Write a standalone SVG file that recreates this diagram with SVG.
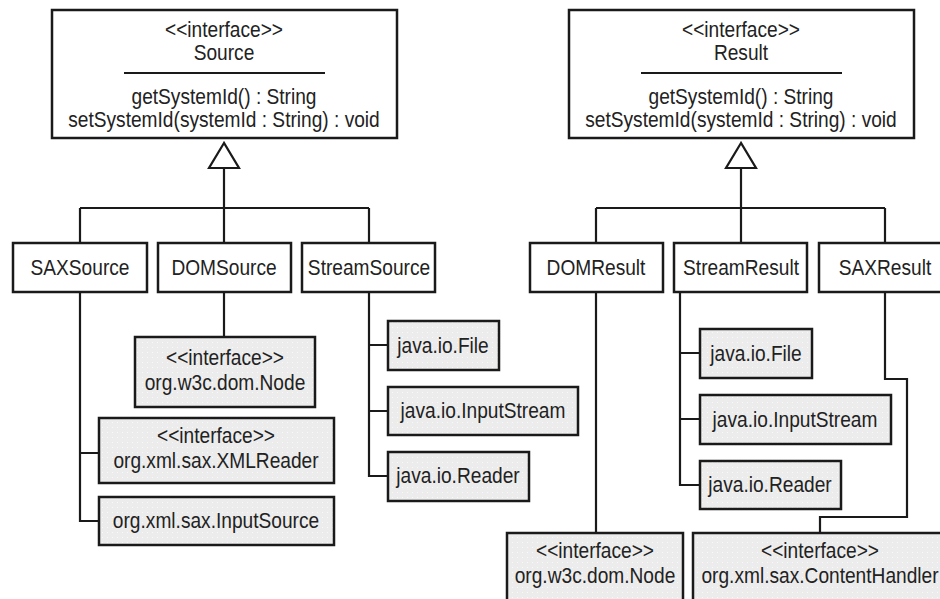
<svg xmlns="http://www.w3.org/2000/svg" width="940" height="599" viewBox="0 0 940 599">
<style>
.box{fill:#fff;stroke:#1a1a1a;stroke-width:2.5}
.leaf{fill:url(#dots);stroke:#1a1a1a;stroke-width:2.5}
.ln{fill:none;stroke:#1a1a1a;stroke-width:2.2}
.tri{fill:#fff;stroke:#1a1a1a;stroke-width:2.2;stroke-linejoin:miter}
text{font-family:"Liberation Sans",Arial,sans-serif;font-size:22px;fill:#222;text-anchor:middle}
</style>
<defs>
<pattern id="dots" width="5" height="5" patternUnits="userSpaceOnUse">
<rect width="5" height="5" fill="#ececec"/>
<rect x="2" y="2" width="1" height="1" fill="#f9f9f9"/>
</pattern>
</defs>
<g id="connectors">
<path class="ln" d="M224,168 V208 M80,208 H369 M80,208 V243 M224,208 V243 M369,208 V243"/>
<polygon class="tri" points="224,143 209,168 239,168"/>
<path class="ln" d="M741,168 V208 M596,208 H885 M596,208 V243 M741,208 V243 M885,208 V243"/>
<polygon class="tri" points="741,143 726,168 756,168"/>
<path class="ln" d="M80,292 V521 H99 M80,453 H99"/>
<path class="ln" d="M224,292 V337"/>
<path class="ln" d="M369,292 V476 H388 M369,345 H388 M369,411 H388"/>
<path class="ln" d="M596,292 V533"/>
<path class="ln" d="M680,292 V485 H700 M680,353 H700 M680,419 H700"/>
<path class="ln" d="M885,292 V379 H907 V517 H820 V533"/>
</g>
<g id="Source">
<rect class="box" x="52" y="10" width="345" height="128"/>
<text transform="translate(224,37) scale(0.87,1)">&lt;&lt;interface&gt;&gt;</text>
<text transform="translate(224,60) scale(0.87,1)">Source</text>
<line class="ln" x1="124" y1="73" x2="325" y2="73" stroke-width="1.5"/>
<text transform="translate(224,104) scale(0.87,1)">getSystemId() : String</text>
<text transform="translate(224,127) scale(0.87,1)">setSystemId(systemId : String) : void</text>
</g>
<g id="Result">
<rect class="box" x="569" y="10" width="345" height="128"/>
<text transform="translate(741,37) scale(0.87,1)">&lt;&lt;interface&gt;&gt;</text>
<text transform="translate(741,60) scale(0.87,1)">Result</text>
<line class="ln" x1="641" y1="73" x2="842" y2="73" stroke-width="1.5"/>
<text transform="translate(741,104) scale(0.87,1)">getSystemId() : String</text>
<text transform="translate(741,127) scale(0.87,1)">setSystemId(systemId : String) : void</text>
</g>
<g id="SAXSource">
<rect class="box" x="13" y="243" width="134" height="49"/>
<text transform="translate(80,275) scale(0.87,1)">SAXSource</text>
</g>
<g id="DOMSource">
<rect class="box" x="158" y="243" width="133" height="49"/>
<text transform="translate(224,275) scale(0.87,1)">DOMSource</text>
</g>
<g id="StreamSource">
<rect class="box" x="302" y="243" width="133" height="49"/>
<text transform="translate(369,275) scale(0.87,1)">StreamSource</text>
</g>
<g id="DOMResult">
<rect class="box" x="530" y="243" width="133" height="49"/>
<text transform="translate(596,275) scale(0.87,1)">DOMResult</text>
</g>
<g id="StreamResult">
<rect class="box" x="674" y="243" width="133" height="49"/>
<text transform="translate(741,275) scale(0.87,1)">StreamResult</text>
</g>
<g id="SAXResult">
<rect class="box" x="819" y="243" width="140" height="49"/>
<text transform="translate(885,275) scale(0.87,1)">SAXResult</text>
</g>
<g id="NodeLeft">
<rect class="leaf" x="135" y="337" width="180" height="70"/>
<text transform="translate(225,365) scale(0.87,1)">&lt;&lt;interface&gt;&gt;</text>
<text transform="translate(225,390) scale(0.87,1)">org.w3c.dom.Node</text>
</g>
<g id="XMLReader">
<rect class="leaf" x="99" y="418" width="235" height="65"/>
<text transform="translate(216,443) scale(0.87,1)">&lt;&lt;interface&gt;&gt;</text>
<text transform="translate(216,468) scale(0.87,1)">org.xml.sax.XMLReader</text>
</g>
<g id="InputSource">
<rect class="leaf" x="99" y="497" width="235" height="48"/>
<text transform="translate(216,528) scale(0.87,1)">org.xml.sax.InputSource</text>
</g>
<g id="FileLeft">
<rect class="leaf" x="388" y="321" width="111" height="49"/>
<text transform="translate(443,353) scale(0.87,1)">java.io.File</text>
</g>
<g id="InputStreamLeft">
<rect class="leaf" x="388" y="387" width="190" height="48"/>
<text transform="translate(483,418) scale(0.87,1)">java.io.InputStream</text>
</g>
<g id="ReaderLeft">
<rect class="leaf" x="388" y="452" width="141" height="49"/>
<text transform="translate(458,483) scale(0.87,1)">java.io.Reader</text>
</g>
<g id="FileRight">
<rect class="leaf" x="700" y="329" width="112" height="49"/>
<text transform="translate(756,361) scale(0.87,1)">java.io.File</text>
</g>
<g id="InputStreamRight">
<rect class="leaf" x="700" y="395" width="191" height="49"/>
<text transform="translate(795,427) scale(0.87,1)">java.io.InputStream</text>
</g>
<g id="ReaderRight">
<rect class="leaf" x="700" y="461" width="141" height="48"/>
<text transform="translate(770,492) scale(0.87,1)">java.io.Reader</text>
</g>
<g id="NodeRight">
<rect class="leaf" x="507" y="533" width="176" height="75"/>
<text transform="translate(595,558) scale(0.87,1)">&lt;&lt;interface&gt;&gt;</text>
<text transform="translate(595,583) scale(0.87,1)">org.w3c.dom.Node</text>
</g>
<g id="ContentHandler">
<rect class="leaf" x="693" y="533" width="260" height="75"/>
<text transform="translate(820,558) scale(0.87,1)">&lt;&lt;interface&gt;&gt;</text>
<text transform="translate(820,583) scale(0.87,1)">org.xml.sax.ContentHandler</text>
</g>
</svg>
